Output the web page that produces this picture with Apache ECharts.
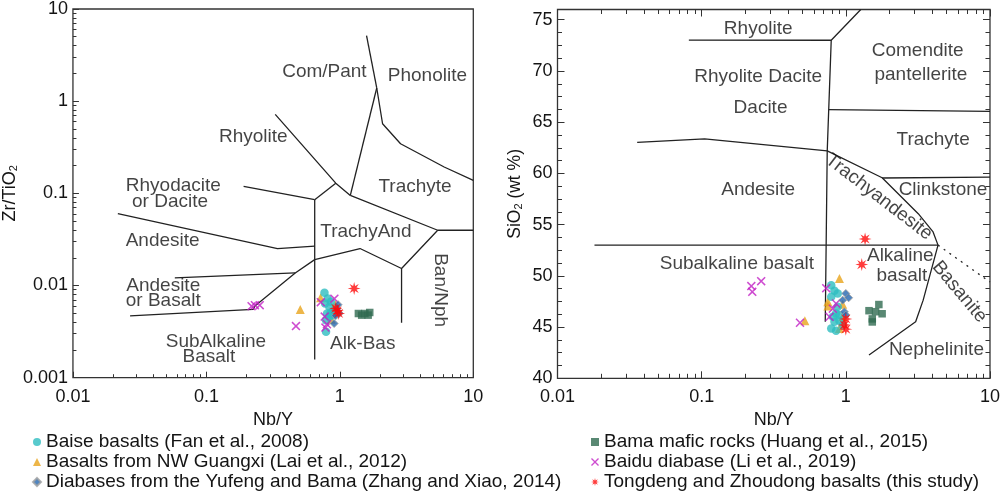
<!DOCTYPE html>
<html><head><meta charset="utf-8">
<script src="https://cdn.jsdelivr.net/npm/echarts@6/dist/echarts.min.js"></script>
<style>html,body{margin:0;padding:0;background:#fff}#c{width:1003px;height:497px}</style>
</head><body><div id="c"></div>
<script>
// ---------- tick values ----------
const NBY_TICKS = [0.01, 0.1, 1, 10];
const NBY_MINOR = [0.02,0.03,0.04,0.05,0.06,0.07,0.08,0.09,0.2,0.3,0.4,0.5,0.6,0.7,0.8,0.9,2,3,4,5,6,7,8,9];
const ZRTI_TICKS = [0.001, 0.01, 0.1, 1, 10];
const ZRTI_MINOR = [0.002,0.003,0.004,0.005,0.006,0.007,0.008,0.009,0.02,0.03,0.04,0.05,0.06,0.07,0.08,0.09,0.2,0.3,0.4,0.5,0.6,0.7,0.8,0.9,2,3,4,5,6,7,8,9];
const SIO2_TICKS = [40,45,50,55,60,65,70,75];
const SIO2_MINOR = [41.25,42.5,43.75,46.25,47.5,48.75,51.25,52.5,53.75,56.25,57.5,58.75,61.25,62.5,63.75,66.25,67.5,68.75,71.25,72.5,73.75];

// ---------- series names ----------
const NAMES = [
  'Baise basalts (Fan et al., 2008)',
  'Basalts from NW Guangxi (Lai et al., 2012)',
  'Diabases from the Yufeng and Bama (Zhang and Xiao, 2014)',
  'Bama mafic rocks (Huang et al., 2015)',
  'Baidu diabase (Li et al., 2019)',
  'Tongdeng and Zhoudong basalts (this study)'
];

// ---------- left panel data: [Nb/Y, Zr/TiO2] ----------
const L_BAISE = [[0.767,0.00833],[0.811,0.00723],[0.857,0.00665],[0.775,0.00638],[0.834,0.00587],[0.802,0.00498],[0.881,0.00477],[0.834,0.00458],[0.931,0.00519],[0.788,0.00421],[0.788,0.00315],[0.88,0.0052],[0.85,0.0050]];
const L_NWGX = [[0.505,0.0055],[0.717,0.00735],[0.93,0.0062],[0.86,0.0043],[0.90,0.0058]];
const L_YUFENG = [[0.906,0.00387],[0.95,0.0056],[0.97,0.0062],[0.93,0.0047],[0.99,0.0050]];
const L_BAMA = [[1.377,0.00497],[1.54,0.00497],[1.675,0.0051],[1.457,0.00477],[1.63,0.00477]];
const L_BAIDU = [[0.218,0.00597],[0.231,0.00612],[0.251,0.00612],[0.469,0.00363],[0.72,0.0066],[0.91,0.0072],[0.77,0.0046],[0.80,0.0038],[0.78,0.0035]];
const L_TONG = [[1.28,0.00929],[0.958,0.00532],[0.932,0.00564],[0.98,0.00498]];

// ---------- right panel data: [Nb/Y, SiO2] ----------
const R_BAISE = [[0.792,49.09],[0.834,48.54],[0.879,48.28],[0.792,47.95],[0.856,46.33],[0.813,46.0],[0.903,46.17],[0.834,45.52],[0.903,45.62],[0.792,44.87],[0.856,44.64],[0.951,45.19],[0.879,46.98]];
const R_NWGX = [[0.903,49.74],[0.751,47.47],[0.751,47.05],[0.951,47.24],[0.52,45.62],[0.903,44.87],[0.951,46.0]];
const R_YUFENG = [[1.0,48.28],[1.046,47.86],[0.977,46.49],[0.951,47.63],[1.0,46.17]];
const R_BAMA = [[1.695,47.2],[1.448,46.6],[1.608,46.5],[1.786,46.3],[1.526,45.8],[1.526,45.5]];
const R_BAIDU = [[0.221,49.0],[0.2244,48.44],[0.2587,49.48],[0.481,45.42],[0.731,48.8],[0.856,47.3],[0.771,46.0],[0.812,46.8]];
const R_TONG = [[1.36,53.6],[1.29,51.1],[1.0,45.8],[0.977,45.2],[1.0,44.8]];

// ---------- field boundaries ----------
const L_BOUNDS = [
  [[1.585,5.14],[1.89,1.39]],
  [[1.89,1.39],[1.198,0.095]],
  [[1.89,1.39],[2.09,0.569],[2.85,0.345],[6.05,0.193],[10,0.138]],
  [[0.328,0.718],[0.932,0.129],[1.198,0.095]],
  [[0.648,0.0853],[0.932,0.129]],
  [[1.198,0.095],[5.41,0.0398],[10,0.0398]],
  [[5.41,0.0398],[2.90,0.0153],[2.90,0.00394]],
  [[2.90,0.0153],[1.416,0.0252],[0.648,0.0191],[0.463,0.0137],[0.231,0.0060]],
  [[0.648,0.0853],[0.648,0.00158]],
  [[0.19,0.119],[0.648,0.0853]],
  [[0.0217,0.0603],[0.341,0.0252],[0.648,0.0267]],
  [[0.058,0.0121],[0.463,0.0137]],
  [[0.0268,0.00469],[0.224,0.0055],[0.231,0.0060]]
];
const R_BOUNDS = [
  [[0.0815,73.02],[0.792,73.0],[1.27,76]],
  [[0.792,73.0],[0.743,62.2],[0.720,45.52]],
  [[0.761,66.23],[10,66.05]],
  [[0.0357,63.02],[0.1048,63.38],[0.743,62.2],[1.786,59.58],[3.18,56.07],[4.03,54.29],[4.36,53.0]],
  [[1.786,59.55],[10,59.64]],
  [[0.01805,53],[4.36,53]],
  [[4.36,53],[3.44,47.63],[3.05,45.52],[1.448,42.27]]
];
const R_DOTTED = [[4.36,53],[10,49.4]];

// ---------- field names ----------
const L_FIELDS = ['Com/Pant','Phonolite','Rhyolite','Rhyodacite','or Dacite','Trachyte','Andesite','TrachyAnd','Ban/Nph','Andesite','or Basalt','SubAlkaline','Basalt','Alk-Bas'];
const L_FIELD_AT = [[0.766,2.11],[4.53,1.90],[0.2245,0.407],[0.0565,0.122],[0.0534,0.0805],[3.66,0.117],[0.047,0.0305],[1.567,0.0387],[5.66,0.00891],[0.0475,0.00984],[0.0475,0.00676],[0.118,0.00245],[0.1044,0.00169],[1.483,0.00232]];
const R_FIELDS = ['Rhyolite','Comendite','pantellerite','Rhyolite Dacite','Dacite','Trachyte','Andesite','Clinkstone','Trachyandesite','Subalkaline basalt','Alkaline','basalt','Basanite','Nephelinite'];
const R_FIELD_AT = [[0.2466,74.09],[3.15,71.98],[3.32,69.64],[0.2466,69.45],[0.256,66.40],[4.03,63.28],[0.2466,58.41],[4.72,58.41],[1.695,57.69],[0.1754,51.14],[2.385,51.92],[2.449,49.97],[6.14,48.44],[4.25,42.76]];

// ---------- styling ----------
const ROT = {'Ban/Nph': -90, 'Trachyandesite': -37.5, 'Basanite': -50};
const TXT = '#141414';
const SANS = "'Liberation Sans', Arial, sans-serif";

function starPath(n, rIn) {
  let d = '';
  for (let i = 0; i < 2 * n; i++) {
    const a = Math.PI * i / n, r = i % 2 ? rIn : 1;
    d += (i ? 'L' : 'M') + (1 + r * Math.sin(a)).toFixed(3) + ',' + (1 - r * Math.cos(a)).toFixed(3);
  }
  return 'path://' + d + 'Z';
}
const STAR = starPath(8, 0.4);
const CROSS = 'path://M0,0.12L0.12,0L0.5,0.38L0.88,0L1,0.12L0.62,0.5L1,0.88L0.88,1L0.5,0.62L0.12,1L0,0.88L0.38,0.5Z';

const STYLES = [
  {symbol: 'circle', symbolSize: 8.5, itemStyle: {color: '#2ebdc0'}},
  {symbol: 'triangle', symbolSize: 9, itemStyle: {color: '#e8a41c'}},
  {symbol: 'diamond', symbolSize: 8, itemStyle: {color: '#2466b0', borderColor: '#a0a0a0', borderWidth: 1}},
  {symbol: 'rect', symbolSize: 7.5, itemStyle: {color: '#2f6a50'}},
  {symbol: CROSS, symbolSize: 9, itemStyle: {color: '#c21fc4'}},
  {symbol: STAR, symbolSize: 13, itemStyle: {color: '#ff0a0a'}}
];
const DRAW_ORDER = [1, 0, 4, 2, 3, 5];
const L_SETS = [L_BAISE, L_NWGX, L_YUFENG, L_BAMA, L_BAIDU, L_TONG];
const R_SETS = [R_BAISE, R_NWGX, R_YUFENG, R_BAMA, R_BAIDU, R_TONG];

const fmtLog = v => String(+Number(v).toPrecision(3));
const lg = v => Math.log10(v);
const NO_LINE = {show: false, onZero: false};

function tickAxis(extra) {
  return Object.assign({
    axisLine: NO_LINE, splitLine: {show: false},
    axisLabel: {show: false}, name: ''
  }, extra);
}
const tickStyle = {color: '#333', width: 1};

const xAxis = [
  {gridIndex: 0, type: 'log', logBase: 10, min: 0.01, max: 10, position: 'bottom',
   axisLine: NO_LINE, splitLine: {show: false},
   axisTick: {inside: true, length: 6, lineStyle: tickStyle},
   axisLabel: {margin: 10, formatter: fmtLog, fontFamily: SANS, fontSize: 18, color: TXT},
   name: 'Nb/Y', nameLocation: 'middle', nameGap: 28,
   nameTextStyle: {fontFamily: SANS, fontSize: 18, color: TXT}},
  tickAxis({gridIndex: 0, type: 'value', min: -2, max: 1, position: 'bottom',
   axisTick: {inside: true, length: 3.5, lineStyle: tickStyle, customValues: NBY_MINOR.map(lg)}}),
  {gridIndex: 1, type: 'log', logBase: 10, min: 0.01, max: 10, position: 'bottom',
   axisLine: NO_LINE, splitLine: {show: false},
   axisTick: {inside: true, length: 7, lineStyle: tickStyle},
   axisLabel: {margin: 10, formatter: fmtLog, fontFamily: SANS, fontSize: 18, color: TXT},
   name: 'Nb/Y', nameLocation: 'middle', nameGap: 28,
   nameTextStyle: {fontFamily: SANS, fontSize: 18, color: TXT}},
  tickAxis({gridIndex: 1, type: 'value', min: -2, max: 1, position: 'bottom',
   axisTick: {inside: true, length: 4.5, lineStyle: tickStyle, customValues: NBY_MINOR.map(lg)}}),
  tickAxis({gridIndex: 1, type: 'value', min: -2, max: 1, position: 'top',
   axisTick: {inside: true, length: 7, lineStyle: tickStyle, customValues: NBY_TICKS.map(lg)}}),
  tickAxis({gridIndex: 1, type: 'value', min: -2, max: 1, position: 'top',
   axisTick: {inside: true, length: 4.5, lineStyle: tickStyle, customValues: NBY_MINOR.map(lg)}})
];

const yAxis = [
  {gridIndex: 0, type: 'log', logBase: 10, min: 0.001, max: 10, position: 'left',
   axisLine: NO_LINE, splitLine: {show: false},
   axisTick: {inside: true, length: 6, lineStyle: tickStyle},
   axisLabel: {margin: 5, formatter: fmtLog, fontFamily: SANS, fontSize: 18, color: TXT},
   name: 'Zr/TiO{s|2}', nameLocation: 'middle', nameGap: 40, nameRotate: 90,
   nameTextStyle: {fontFamily: SANS, fontSize: 18, color: TXT,
     rich: {s: {fontFamily: SANS, fontSize: 11, color: TXT, verticalAlign: 'bottom', padding: [7, 0, 0, 0]}}}},
  tickAxis({gridIndex: 0, type: 'value', min: -3, max: 1, position: 'left',
   axisTick: {inside: true, length: 3.5, lineStyle: tickStyle, customValues: ZRTI_MINOR.map(lg)}}),
  {gridIndex: 1, type: 'value', min: 40, max: 76, interval: 5, position: 'left',
   axisLine: NO_LINE, splitLine: {show: false},
   axisTick: {inside: true, length: 7, lineStyle: tickStyle, customValues: SIO2_TICKS},
   axisLabel: {margin: 5, fontFamily: SANS, fontSize: 18, color: TXT, customValues: SIO2_TICKS},
   name: 'SiO{s|2} (wt %)', nameLocation: 'middle', nameGap: 33, nameRotate: 90,
   nameTextStyle: {fontFamily: SANS, fontSize: 17.5, color: TXT,
     rich: {s: {fontFamily: SANS, fontSize: 11, color: TXT, verticalAlign: 'bottom', padding: [6, 0, 0, 0]}}}},
  tickAxis({gridIndex: 1, type: 'value', min: 40, max: 76, position: 'left',
   axisTick: {inside: true, length: 4.5, lineStyle: tickStyle, customValues: SIO2_MINOR}}),
  tickAxis({gridIndex: 1, type: 'value', min: 40, max: 76, position: 'right',
   axisTick: {inside: true, length: 7, lineStyle: tickStyle, customValues: SIO2_TICKS}}),
  tickAxis({gridIndex: 1, type: 'value', min: 40, max: 76, position: 'right',
   axisTick: {inside: true, length: 4.5, lineStyle: tickStyle, customValues: SIO2_MINOR}})
];

const series = [];
function boundary(data, xi, yi, dotted) {
  series.push({type: 'line', xAxisIndex: xi, yAxisIndex: yi, data: data, showSymbol: false,
    symbol: 'none', silent: true, z: 2,
    lineStyle: {color: '#222', width: 1.3, type: dotted ? [2, 5] : 'solid'}});
}
L_BOUNDS.forEach(b => boundary(b, 0, 0));
R_BOUNDS.forEach(b => boundary(b, 2, 2));
boundary(R_DOTTED, 2, 2, true);

function fields(names, at, xi, yi) {
  series.push({type: 'scatter', xAxisIndex: xi, yAxisIndex: yi, silent: true, z: 3,
    symbol: 'circle', symbolSize: 1, itemStyle: {color: 'rgba(0,0,0,0)'},
    data: names.map((n, i) => ({name: n, value: at[i],
      label: {rotate: ROT[n] || 0}})),
    label: {show: true, position: 'inside', formatter: p => p.name,
      fontFamily: SANS, fontSize: 19, color: TXT}});
}
fields(L_FIELDS, L_FIELD_AT, 0, 0);
fields(R_FIELDS, R_FIELD_AT, 2, 2);

DRAW_ORDER.forEach((k, j) => {
  series.push(Object.assign({type: 'scatter', name: NAMES[k], xAxisIndex: 0, yAxisIndex: 0,
    data: L_SETS[k], z: 5 + j}, STYLES[k]));
  series.push(Object.assign({type: 'scatter', name: NAMES[k], xAxisIndex: 2, yAxisIndex: 2,
    data: R_SETS[k], z: 5 + j}, STYLES[k]));
});

const legendBase = {orient: 'vertical', itemWidth: 8, itemHeight: 8, itemGap: 0, top: 432,
  padding: 0, selectedMode: false,
  textStyle: {fontFamily: SANS, fontSize: 19, lineHeight: 20, color: TXT}};

const chart = echarts.init(document.getElementById('c'), null, {renderer: 'canvas'});
chart.setOption({
  animation: false,
  backgroundColor: '#fff',
  grid: [
    {left: 61, top: 8.3, width: 412.3, height: 369.4, show: true, borderColor: '#333', borderWidth: 1.3, backgroundColor: 'transparent'},
    {left: 557.5, top: 9.5, width: 438.5, height: 368.8, show: true, borderColor: '#333', borderWidth: 1.3, backgroundColor: 'transparent'}
  ],
  legend: [
    Object.assign({left: 32, data: NAMES.slice(0, 3)}, legendBase),
    Object.assign({left: 591, data: NAMES.slice(3)}, legendBase)
  ],
  xAxis: xAxis,
  yAxis: yAxis,
  series: series
});
</script>
</body></html>
